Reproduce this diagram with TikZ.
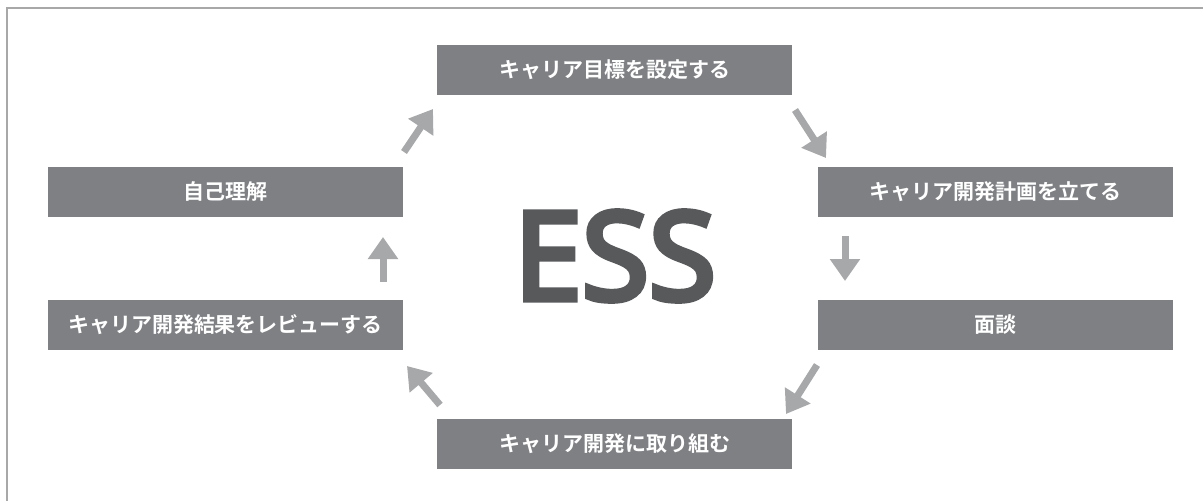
\documentclass[tikz,border=0pt]{standalone}
\usepackage{fontspec}
\setmainfont{Open Sans}
\newfontfamily\essfont{Open Sans}[FakeBold=5]
\newfontfamily\jpfont{Noto Sans CJK JP}[BoldFont={* Bold}]
\usetikzlibrary{arrows.meta}
\definecolor{boxgray}{HTML}{7F8084}
\definecolor{arrgray}{HTML}{A7A8AA}
\definecolor{essgray}{HTML}{58595B}
\definecolor{framegray}{HTML}{A8A8A8}
\tikzset{
  stepbox/.style={fill=boxgray, draw=none, minimum width=355pt, minimum height=50pt, inner sep=0pt,
    text=white, font=\jpfont\bfseries\fontsize{21}{21}\selectfont, anchor=center},
  flowarrow/.style={draw=arrgray, line width=7pt, -{Triangle[length=22pt,width=29pt]}}
}
\begin{document}
\begin{tikzpicture}[x=1pt,y=-1pt]
\useasboundingbox (0,0) rectangle (1203,501);
\draw[framegray, line width=1.5pt] (7,501) -- (7,8) -- (1203,8);
\node[stepbox] (goal) at (614.5,70) {キャリア目標を設定する};
\node[stepbox] (plan) at (995.5,192) {キャリア開発計画を立てる};
\node[stepbox] (talk) at (995.5,325) {面談};
\node[stepbox] (act) at (614.5,444) {キャリア開発に取り組む};
\node[stepbox] (review) at (225.5,325) {キャリア開発結果をレビューする};
\node[stepbox] (self) at (225.5,192) {自己理解};
\node[text=essgray, font=\essfont\fontsize{122}{122}\selectfont] (ess) at (615,256) {ESS};
\coordinate (a1s) at (404,152); \coordinate (a1e) at (433,109);
\coordinate (a2s) at (795,110); \coordinate (a2e) at (826,158);
\coordinate (a3s) at (845,236); \coordinate (a3e) at (845,281);
\coordinate (a4s) at (817,365); \coordinate (a4e) at (786,414);
\coordinate (a5s) at (440,405); \coordinate (a5e) at (407,366);
\coordinate (a6s) at (383,282); \coordinate (a6e) at (383,237);
\draw[flowarrow] (a1s) -- (a1e);
\draw[flowarrow] (a2s) -- (a2e);
\draw[flowarrow] (a3s) -- (a3e);
\draw[flowarrow] (a4s) -- (a4e);
\draw[flowarrow] (a5s) -- (a5e);
\draw[flowarrow] (a6s) -- (a6e);
\end{tikzpicture}
\end{document}
